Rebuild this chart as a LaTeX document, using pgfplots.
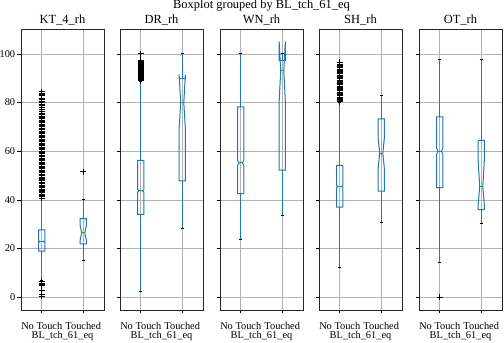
\documentclass[border=0pt]{standalone}
\usepackage{fontspec}
\setmainfont{Liberation Serif}
\usepackage{pgfplots}
\pgfplotsset{compat=1.18}
\definecolor{boxc}{HTML}{1F77B4}
\definecolor{medc}{HTML}{2CA02C}
\pgfplotsset{
  bx/.style={
    scale only axis, width=83bp, height=281bp, anchor=south west,
    xmin=0.5, xmax=2.5, ymin=-5.25, ymax=110.25,
    xtick={1,2}, xticklabels={No Touch,Touched},
    ytick={0,20,40,60,80,100},
    tick align=outside, major tick length=3.5bp,
    xtick pos=left, ytick pos=left,
    tick style={black, line width=0.8bp},
    grid=major, major grid style={black!31, line width=0.8bp},
    axis line style={black!85, line width=0.8bp},
    xlabel={BL\_tch\_61\_eq},
    xlabel style={at={(axis description cs:0.5,0)}, anchor=base, yshift=-28bp, inner sep=0pt},
    every axis title/.style={at={(axis description cs:0.5,1)}, anchor=base, yshift=5.8bp, inner sep=0pt, font=\fontsize{12.5}{14}\selectfont},
    xticklabel style={anchor=base, yshift=-15.5bp, inner sep=0pt},
    yticklabel style={anchor=east, xshift=1.2bp},
    /pgf/number format/assume math mode=true,
    font=\fontsize{10.4}{12}\selectfont,
    clip=false,
  },
  fl/.style={only marks, mark=+, mark size=3bp, mark options={black, line width=0.9bp}},
}
% pos q1 med q3 cilo cihi wlo whi
\newcommand\bxp[8]{%
  \pgfmathsetmacro\bl{#1-0.075}\pgfmathsetmacro\br{#1+0.075}%
  \pgfmathsetmacro\nl{#1-0.0375}\pgfmathsetmacro\nr{#1+0.0375}%
  \edef\tmp{%
    \noexpand\addplot[boxc, line width=1bp] coordinates {(#1,#2) (#1,#7)};
    \noexpand\addplot[boxc, line width=1bp] coordinates {(#1,#4) (#1,#8)};
    \noexpand\addplot[black, line width=1bp] coordinates {(\nl,#7) (\nr,#7)};
    \noexpand\addplot[black, line width=1bp] coordinates {(\nl,#8) (\nr,#8)};
    \noexpand\addplot[boxc, line width=1bp] coordinates {(\bl,#2) (\br,#2) (\br,#5) (\nr,#3) (\br,#6) (\br,#4) (\bl,#4) (\bl,#6) (\nl,#3) (\bl,#5) (\bl,#2)} --cycle;
    \noexpand\addplot[medc, line width=1bp] coordinates {(\nl,#3) (\nr,#3)};
  }\tmp}
\begin{document}
\begin{tikzpicture}
\useasboundingbox (0,0) rectangle (504bp,343bp);
\node[anchor=base, font=\fontsize{12.5}{14}\selectfont, inner sep=0pt] at (261.5bp,334.5bp) {Boxplot grouped by BL\_tch\_61\_eq};
% KT_4_rh
\begin{axis}[bx, at={(21bp,33bp)}, title={KT\_4\_rh}]
\bxp{1}{18.9}{22.9}{27.7}{22.6}{23.2}{7.0}{40.5}
\bxp{2}{21.9}{26.4}{32.3}{23.4}{29.5}{15.2}{40.3}
\addplot[fl] coordinates {(1,6.3) (1,5.8) (1,5.3) (1,4.8) (1,2.9) (1,1.1) (1,0.4)
 (1,40.8) (1,41.3) (1,41.8) (1,42.3) (1,42.9) (1,43.4) (1,43.9) (1,44.5) (1,45.0) (1,45.6)
 (1,46.1) (1,46.7) (1,47.2) (1,47.8) (1,48.3) (1,48.9) (1,49.4) (1,50.0) (1,50.6) (1,51.1)
 (1,51.7) (1,52.2) (1,52.8) (1,53.3) (1,53.9) (1,54.4) (1,55.0) (1,55.6) (1,56.1) (1,56.7)
 (1,57.2) (1,57.8) (1,58.3) (1,58.9) (1,59.4) (1,60.0) (1,60.6) (1,61.1) (1,61.7) (1,62.2)
 (1,62.8) (1,63.3) (1,63.9) (1,64.4) (1,65.0) (1,65.6) (1,66.1) (1,66.7) (1,67.2) (1,67.8)
 (1,68.3) (1,68.9) (1,69.4) (1,70.0) (1,70.6) (1,71.1) (1,71.7) (1,72.2) (1,72.8) (1,73.3)
 (1,73.9) (1,74.4) (1,75.0) (1,75.6) (1,76.4) (1,77.2) (1,77.8) (1,78.9) (1,79.4) (1,80.0)
 (1,80.6) (1,81.1) (1,81.7) (1,82.8) (1,83.3) (1,83.9) (1,84.4)
 (2,51.5)};
\end{axis}
% DR_rh
\begin{axis}[bx, at={(120bp,33bp)}, title={DR\_rh}, yticklabels={}]
\bxp{1}{34.1}{43.7}{56.3}{43.2}{44.2}{2.2}{88.8}
\bxp{2}{47.8}{80.0}{89.9}{69.3}{91.5}{28.2}{100.0}
\addplot[fl] coordinates {(1,89.0) (1,89.4) (1,89.8) (1,90.2) (1,90.6) (1,91.0) (1,91.4)
 (1,91.8) (1,92.2) (1,92.6) (1,93.0) (1,93.4) (1,93.8) (1,94.2) (1,94.6) (1,95.0) (1,95.4)
 (1,95.8) (1,96.2) (1,96.6) (1,97.0) (1,97.4) (1,100.0)};
\end{axis}
% WN_rh
\begin{axis}[bx, at={(220bp,33bp)}, title={WN\_rh}, yticklabels={}]
\bxp{1}{42.6}{55.2}{78.2}{54.2}{56.2}{23.8}{100.0}
\bxp{2}{52.2}{93.0}{97.4}{80.3}{105.2}{33.6}{100.0}
\end{axis}
% SH_rh
\begin{axis}[bx, at={(319bp,33bp)}, title={SH\_rh}, yticklabels={}]
\bxp{1}{37.0}{45.5}{54.2}{45.1}{45.9}{12.2}{80.0}
\bxp{2}{43.6}{59.2}{73.3}{52.9}{65.5}{30.8}{82.9}
\addplot[fl] coordinates {(1,80.3) (1,80.8) (1,81.3) (1,81.8) (1,82.3) (1,82.8) (1,83.3)
 (1,83.8) (1,84.3) (1,84.8) (1,85.3) (1,85.8) (1,86.3) (1,86.8) (1,87.3) (1,87.8) (1,88.3)
 (1,88.8) (1,89.3) (1,89.8) (1,90.3) (1,90.8) (1,91.3) (1,91.8) (1,92.3) (1,92.8) (1,93.3)
 (1,93.8) (1,94.3) (1,94.8) (1,95.3) (1,95.8) (1,96.3) (1,96.7)};
\end{axis}
% OT_rh
\begin{axis}[bx, at={(419bp,33bp)}, title={OT\_rh}, yticklabels={}]
\bxp{1}{45.1}{60.0}{74.1}{58.8}{61.2}{14.4}{97.8}
\bxp{2}{36.0}{45.6}{64.5}{37.8}{56.5}{30.1}{97.8}
\addplot[fl] coordinates {(1,0.0)};
\end{axis}
\end{tikzpicture}
\end{document}
